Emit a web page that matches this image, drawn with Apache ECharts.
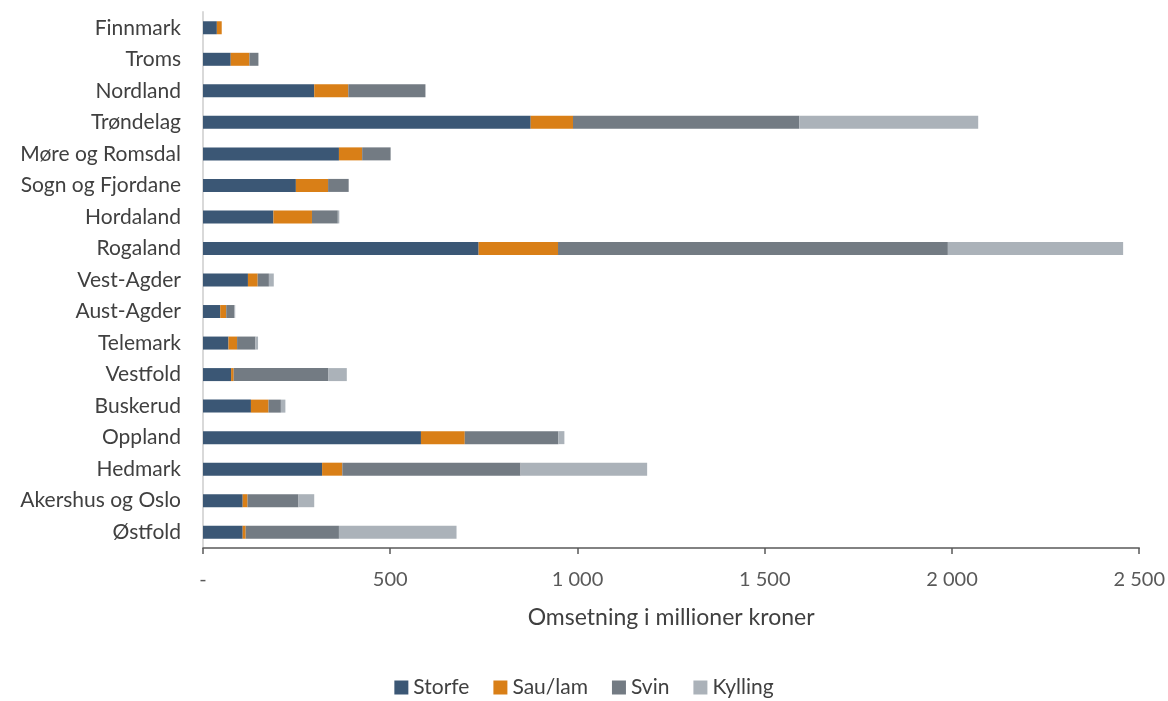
<!DOCTYPE html>
<html>
<head>
<meta charset="utf-8">
<script src="https://cdn.jsdelivr.net/npm/echarts@6/dist/echarts.min.js"></script>
<style>
  html, body { margin: 0; padding: 0; background: #fff; }
  #content { width: 1168px; height: 701px; }
</style>
</head>
<body>
<div id="content"></div>
<script>
// fylker, fra toppen og ned
const regions = ['Finnmark', 'Troms', 'Nordland', 'Trøndelag', 'Møre og Romsdal', 'Sogn og Fjordane',
  'Hordaland', 'Rogaland', 'Vest-Agder', 'Aust-Agder', 'Telemark', 'Vestfold', 'Buskerud',
  'Oppland', 'Hedmark', 'Akershus og Oslo', 'Østfold']

// omsetning i millioner kroner
const storfe  = [37, 74, 297, 875, 363, 248, 188, 736, 120, 46, 68, 75, 128, 582, 318, 106, 106]
const saulam  = [13, 50, 91, 113, 62, 86, 103, 212, 26, 16, 23, 7, 47, 117, 54, 13, 8]
const svin    = [0, 24, 206, 604, 76, 55, 69, 1041, 30, 22, 49, 253, 33, 250, 476, 136, 249]
const kylling = [0, 0, 0, 478, 0, 0, 4, 468, 13, 2, 7, 49, 12, 16, 338, 42, 314]

const xTicks = [0, 500, 1000, 1500, 2000, 2500]

const font = 'Lato, "Open Sans", sans-serif'

function fmt(v) {
  if (v === 0) return '-'
  return String(v).replace(/\B(?=(\d{3})+(?!\d))/g, ' ')
}

const chart = echarts.init(document.querySelector('#content'))

function bar(name, data, color) {
  return {
    name: name,
    type: 'bar',
    stack: 'total',
    barWidth: 13,
    data: data,
    itemStyle: { color: color },
    emphasis: { disabled: true }
  }
}

chart.setOption({
  animation: false,
  textStyle: { fontFamily: font },
  grid: { left: 203, right: 28, top: 12, bottom: 153 },
  legend: {
    top: 672,
    left: 'center',
    itemWidth: 14,
    itemHeight: 14,
    itemGap: 24,
    icon: 'rect',
    textStyle: { fontSize: 21, color: '#404040', fontFamily: font }
  },
  xAxis: {
    type: 'value',
    min: 0,
    max: 2500,
    interval: 500,
    name: 'Omsetning i millioner kroner',
    nameLocation: 'middle',
    nameGap: 58,
    nameTextStyle: { fontSize: 23, color: '#404040', fontFamily: font },
    axisLine: { show: true, lineStyle: { color: '#595959', width: 1.5 } },
    axisTick: { show: true, length: 6, inside: false, lineStyle: { color: '#595959', width: 1.5 } },
    splitLine: { show: false },
    axisLabel: {
      fontSize: 20,
      color: '#595959',
      margin: 22,
      fontFamily: font,
      customValues: xTicks,
      formatter: v => fmt(v)
    }
  },
  yAxis: {
    type: 'category',
    inverse: true,
    data: regions,
    axisLine: { show: true, lineStyle: { color: '#d9d9d9', width: 2 } },
    axisTick: { show: false },
    axisLabel: { fontSize: 21, color: '#404040', margin: 22, fontFamily: font }
  },
  series: [
    bar('Storfe', storfe, '#3b5775'),
    bar('Sau/lam', saulam, '#d97f17'),
    bar('Svin', svin, '#737b83'),
    bar('Kylling', kylling, '#abb2b9')
  ]
})
</script>
</body>
</html>
